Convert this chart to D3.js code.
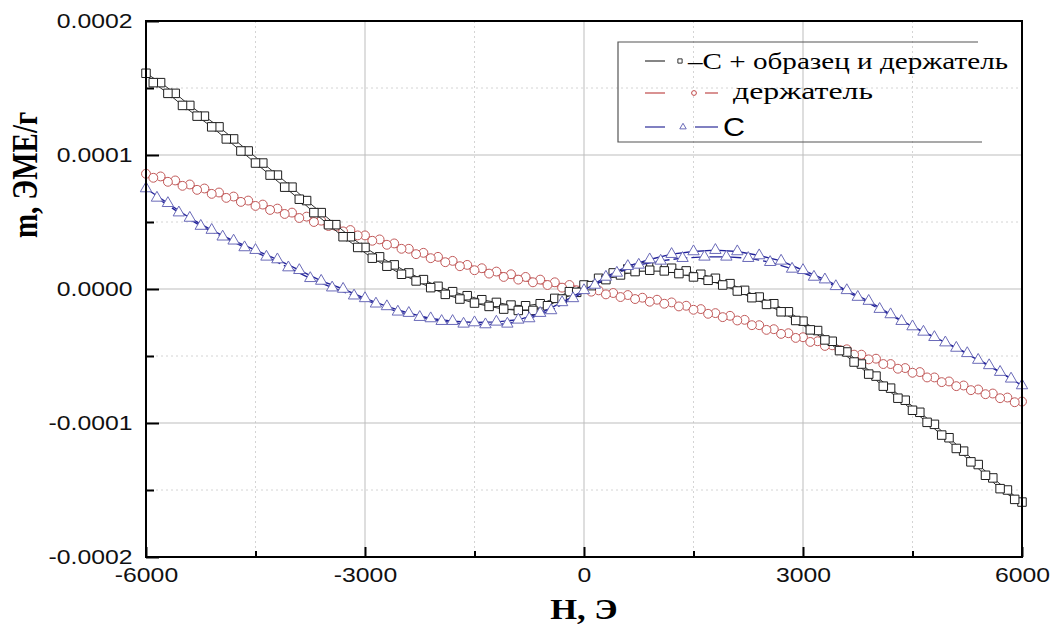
<!DOCTYPE html>
<html>
<head>
<meta charset="utf-8">
<script src="https://cdn.jsdelivr.net/npm/d3@7"></script>
<style>
  body { margin: 0; background: #fff; }
  svg { display: block; }
</style>
</head>
<body>
<div id="chart"></div>
<script>
// m values below are written in units of 1e-4 emu/g, H in Oe
const mUnit = 1e-4;

// field grid of the measurement points (even branch / odd branch)
const hEven = d3.range(-6000, 6001, 200);   // 61 points
const hOdd = d3.range(-5900, 5901, 200);    // 60 points
const hBlueA = d3.range(-6000, 6001, 300);  // 41 points
const hBlueB = d3.range(-5850, 5851, 300);  // 40 points

// C + sample + holder (squares)
const totalDown = [1.61, 1.54, 1.46, 1.37, 1.29, 1.21, 1.12, 1.03, 0.94, 0.85,
  0.76, 0.66, 0.57, 0.48, 0.39, 0.31, 0.24, 0.18, 0.12, 0.07,
  0.02, -0.02, -0.05, -0.08, -0.10, -0.12, -0.125, -0.11, -0.07, -0.02,
  0.03, 0.08, 0.12, 0.15, 0.165, 0.165, 0.155, 0.135, 0.11, 0.08,
  0.04, -0.01, -0.06, -0.11, -0.17, -0.24, -0.31, -0.39, -0.47, -0.56,
  -0.65, -0.74, -0.83, -0.92, -1.01, -1.11, -1.21, -1.31, -1.41, -1.50, -1.59];
const totalUp = [1.54, 1.46, 1.37, 1.29, 1.21, 1.12, 1.03, 0.94, 0.85, 0.76,
  0.67, 0.57, 0.48, 0.39, 0.31, 0.23, 0.17, 0.11, 0.06, 0.01,
  -0.04, -0.075, -0.105, -0.13, -0.15, -0.16, -0.16, -0.125, -0.075, -0.025,
  0.025, 0.07, 0.105, 0.13, 0.14, 0.135, 0.115, 0.09, 0.065, 0.03,
  -0.015, -0.065, -0.115, -0.17, -0.235, -0.305, -0.38, -0.46, -0.545, -0.635,
  -0.725, -0.815, -0.905, -0.995, -1.09, -1.19, -1.29, -1.39, -1.49, -1.57];

// holder (circles)
const holderDown = [0.86, 0.84, 0.81, 0.78, 0.75, 0.72, 0.69, 0.66, 0.63, 0.60,
  0.57, 0.54, 0.51, 0.47, 0.44, 0.40, 0.37, 0.34, 0.30, 0.27,
  0.24, 0.21, 0.18, 0.155, 0.13, 0.11, 0.09, 0.07, 0.05, 0.03,
  0.01, -0.01, -0.03, -0.045, -0.065, -0.08, -0.10, -0.125, -0.15, -0.18,
  -0.20, -0.23, -0.27, -0.30, -0.33, -0.36, -0.39, -0.42, -0.45, -0.49,
  -0.52, -0.56, -0.59, -0.62, -0.66, -0.69, -0.72, -0.75, -0.78, -0.81, -0.84];
const holderUp = [0.83, 0.80, 0.77, 0.74, 0.71, 0.68, 0.65, 0.62, 0.59, 0.56,
  0.53, 0.50, 0.47, 0.43, 0.40, 0.36, 0.33, 0.30, 0.26, 0.23,
  0.20, 0.17, 0.14, 0.115, 0.09, 0.07, 0.05, 0.03, 0.01, -0.01,
  -0.02, -0.04, -0.06, -0.075, -0.095, -0.11, -0.13, -0.155, -0.185, -0.21,
  -0.235, -0.27, -0.305, -0.335, -0.365, -0.395, -0.425, -0.455, -0.49, -0.525,
  -0.56, -0.595, -0.625, -0.66, -0.695, -0.725, -0.755, -0.785, -0.815, -0.845];

// C (triangles)
const carbonA = [0.75, 0.64, 0.53, 0.44, 0.36, 0.29, 0.22, 0.14, 0.06, 0.00,
  -0.07, -0.13, -0.18, -0.22, -0.24, -0.25, -0.245, -0.23, -0.18, -0.10,
  -0.01, 0.09, 0.17, 0.22, 0.26, 0.28, 0.29, 0.28, 0.25, 0.21,
  0.14, 0.07, -0.01, -0.09, -0.19, -0.28, -0.36, -0.44, -0.53, -0.62, -0.72];
const carbonB = [0.68, 0.57, 0.47, 0.39, 0.31, 0.24, 0.16, 0.08, 0.01, -0.05,
  -0.11, -0.17, -0.21, -0.24, -0.26, -0.265, -0.26, -0.22, -0.16, -0.07,
  0.03, 0.12, 0.18, 0.21, 0.23, 0.24, 0.24, 0.23, 0.20, 0.15,
  0.09, 0.02, -0.06, -0.15, -0.24, -0.32, -0.40, -0.48, -0.57, -0.67];

const xMajor = [-6000, -3000, 0, 3000, 6000];
const xMinor = [-4500, -1500, 1500, 4500];
const yMajor = [-0.0002, -0.0001, 0, 0.0001, 0.0002];
const yMinor = [-0.00015, -0.00005, 0.00005, 0.00015];

const legendItems = [
  {label: "\u2013C + образец и держатель", color: "#333", sym: "square"},
  {label: "держатель", color: "#c04848", sym: "circle"},
  {label: "C", color: "#2a2a98", sym: "triangle"}
];

const serif = "'Liberation Serif', 'DejaVu Serif', 'Times New Roman', serif";
const sans = "'Liberation Sans', Arial, sans-serif";

const W = 1057, H = 625;
const margin = {top: 21, right: 35, bottom: 68, left: 146};
const width = W - margin.left - margin.right,
      height = H - margin.top - margin.bottom;
const sx = 1.18; // the original picture is stretched sideways

const x = d3.scaleLinear().domain([-6000, 6000]).range([0, width]);
const y = d3.scaleLinear().domain([-0.0002, 0.0002]).range([height, 0]);

const svg = d3.select("#chart").append("svg")
  .attr("width", W).attr("height", H);
const g = svg.append("g")
  .attr("transform", "translate(" + margin.left + "," + margin.top + ")");

// grid
g.append("g").selectAll("line").data(xMinor).join("line")
  .attr("x1", d => x(d)).attr("x2", d => x(d)).attr("y1", 0).attr("y2", height)
  .attr("stroke", "#d4d4d4").attr("stroke-dasharray", "2,3");
g.append("g").selectAll("line").data(yMinor).join("line")
  .attr("y1", d => y(d)).attr("y2", d => y(d)).attr("x1", 0).attr("x2", width)
  .attr("stroke", "#d4d4d4").attr("stroke-dasharray", "2,3");
g.append("g").selectAll("line").data(xMajor.slice(1, -1)).join("line")
  .attr("x1", d => x(d)).attr("x2", d => x(d)).attr("y1", 0).attr("y2", height)
  .attr("stroke", "#bdbdbd");
g.append("g").selectAll("line").data(yMajor.slice(1, -1)).join("line")
  .attr("y1", d => y(d)).attr("y2", d => y(d)).attr("x1", 0).attr("x2", width)
  .attr("stroke", "#bdbdbd");

// series
function pts(hs, ms) {
  return hs.map((h, i) => ({h: h, m: ms[i] * mUnit}));
}
const line = d3.line().x(d => x(d.h)).y(d => y(d.m));

function drawSeries(branches, opt) {
  const s = g.append("g");
  branches.forEach((b, k) => {
    s.append("path").datum(b)
      .attr("d", line).attr("fill", "none")
      .attr("stroke", opt.line).attr("stroke-width", opt.lw)
      .attr("stroke-dasharray", k === 1 && opt.dash ? opt.dash : null);
  });
  const sym = d3.symbol().type(opt.type).size(opt.size);
  branches.forEach(b => {
    s.append("g").selectAll("path").data(b).join("path")
      .attr("d", sym)
      .attr("transform", d => "translate(" + x(d.h) + "," + y(d.m) + ")")
      .attr("fill", "#fff").attr("stroke", opt.marker).attr("stroke-width", 1);
  });
}

drawSeries([pts(hEven, holderDown), pts(hOdd, holderUp)],
  {line: "#c04848", lw: 1, marker: "#c25a5a", type: d3.symbolCircle, size: 62});
drawSeries([pts(hEven, totalDown), pts(hOdd, totalUp)],
  {line: "#333", lw: 1, marker: "#1e1e1e", type: d3.symbolSquare, size: 72});
drawSeries([pts(hBlueA, carbonA), pts(hBlueB, carbonB)],
  {line: "#22229a", lw: 1.4, dash: "14,4", marker: "#6a6ab8", type: d3.symbolTriangle, size: 56});

// axes
const yAxis = g.append("g").call(d3.axisLeft(y).tickValues(yMajor)
  .tickSizeInner(-13).tickSizeOuter(0).tickPadding(13.5)
  .tickFormat(d => d.toFixed(4)));
g.append("g").call(d3.axisLeft(y).tickValues(yMinor)
  .tickSizeInner(-8).tickSizeOuter(0).tickFormat(""));
const xAxis = g.append("g").attr("transform", "translate(0," + height + ")")
  .call(d3.axisBottom(x).tickValues(xMajor)
    .tickSizeInner(-10).tickSizeOuter(0).tickPadding(10)
    .tickFormat(d => String(d)));
g.append("g").attr("transform", "translate(0," + height + ")")
  .call(d3.axisBottom(x).tickValues(xMinor)
    .tickSizeInner(-6).tickSizeOuter(0).tickFormat(""));

g.selectAll(".domain").remove();
g.selectAll(".tick line").attr("stroke", "#000").attr("stroke-width", 2);
g.selectAll(".tick text")
  .attr("font-family", sans)
  .attr("font-size", 21).attr("fill", "#111")
  .attr("transform", "scale(" + sx + ",1)");
yAxis.selectAll(".tick text").attr("x", -13.5 / sx);

// frame
g.append("rect").attr("width", width).attr("height", height)
  .attr("fill", "none").attr("stroke", "#000").attr("stroke-width", 2);

// axis titles
svg.append("text")
  .attr("transform", "translate(" + (margin.left + x(0)) + ",619) scale(1.15,1)")
  .attr("text-anchor", "middle")
  .attr("font-family", serif)
  .attr("font-weight", "bold").attr("font-size", 30)
  .text("H, Э");
svg.append("text")
  .attr("transform", "translate(37,175) rotate(-90) scale(1,1.2)")
  .attr("text-anchor", "middle")
  .attr("font-family", serif)
  .attr("font-weight", "bold").attr("font-size", 29)
  .text("m, ЭМЕ/г");

// legend
const lg = svg.append("g");
lg.append("path").attr("d", "M978,42H618V142H982")
  .attr("fill", "none").attr("stroke", "#555").attr("stroke-width", 1.2);
const rowY = [61, 93, 127];
const symType = {square: d3.symbolSquare, circle: d3.symbolCircle, triangle: d3.symbolTriangle};
legendItems.forEach((it, i) => {
  const yy = rowY[i];
  const row = lg.append("g");
  row.append("line").attr("x1", 645).attr("x2", 665).attr("y1", yy).attr("y2", yy)
    .attr("stroke", it.color).attr("stroke-width", 1.2);
  const mx = i === 0 ? 680 : (i === 1 ? 694 : 683);
  row.append("path").attr("d", d3.symbol().type(symType[it.sym]).size(18))
    .attr("transform", "translate(" + mx + "," + yy + ")")
    .attr("fill", "#fff").attr("stroke", i === 2 ? "#6a6ab8" : it.color).attr("stroke-width", 1);
  if (i > 0) {
    row.append("line").attr("x1", i === 1 ? 705 : 695).attr("x2", 718)
      .attr("y1", yy).attr("y2", yy)
      .attr("stroke", it.color).attr("stroke-width", 1.2);
  }
  const t = row.append("text").attr("fill", "#000").text(it.label)
    .attr("lengthAdjust", "spacingAndGlyphs");
  if (i === 0) {
    t.attr("x", 688).attr("y", yy + 8)
      .attr("font-family", serif).attr("font-size", 23)
      .attr("textLength", 320);
  } else if (i === 1) {
    t.attr("x", 733).attr("y", yy + 6)
      .attr("font-family", serif).attr("font-size", 24)
      .attr("textLength", 140);
  } else {
    t.attr("x", 723).attr("y", yy + 9)
      .attr("font-family", sans).attr("font-size", 25)
      .attr("textLength", 22);
  }
});
</script>
</body>
</html>
